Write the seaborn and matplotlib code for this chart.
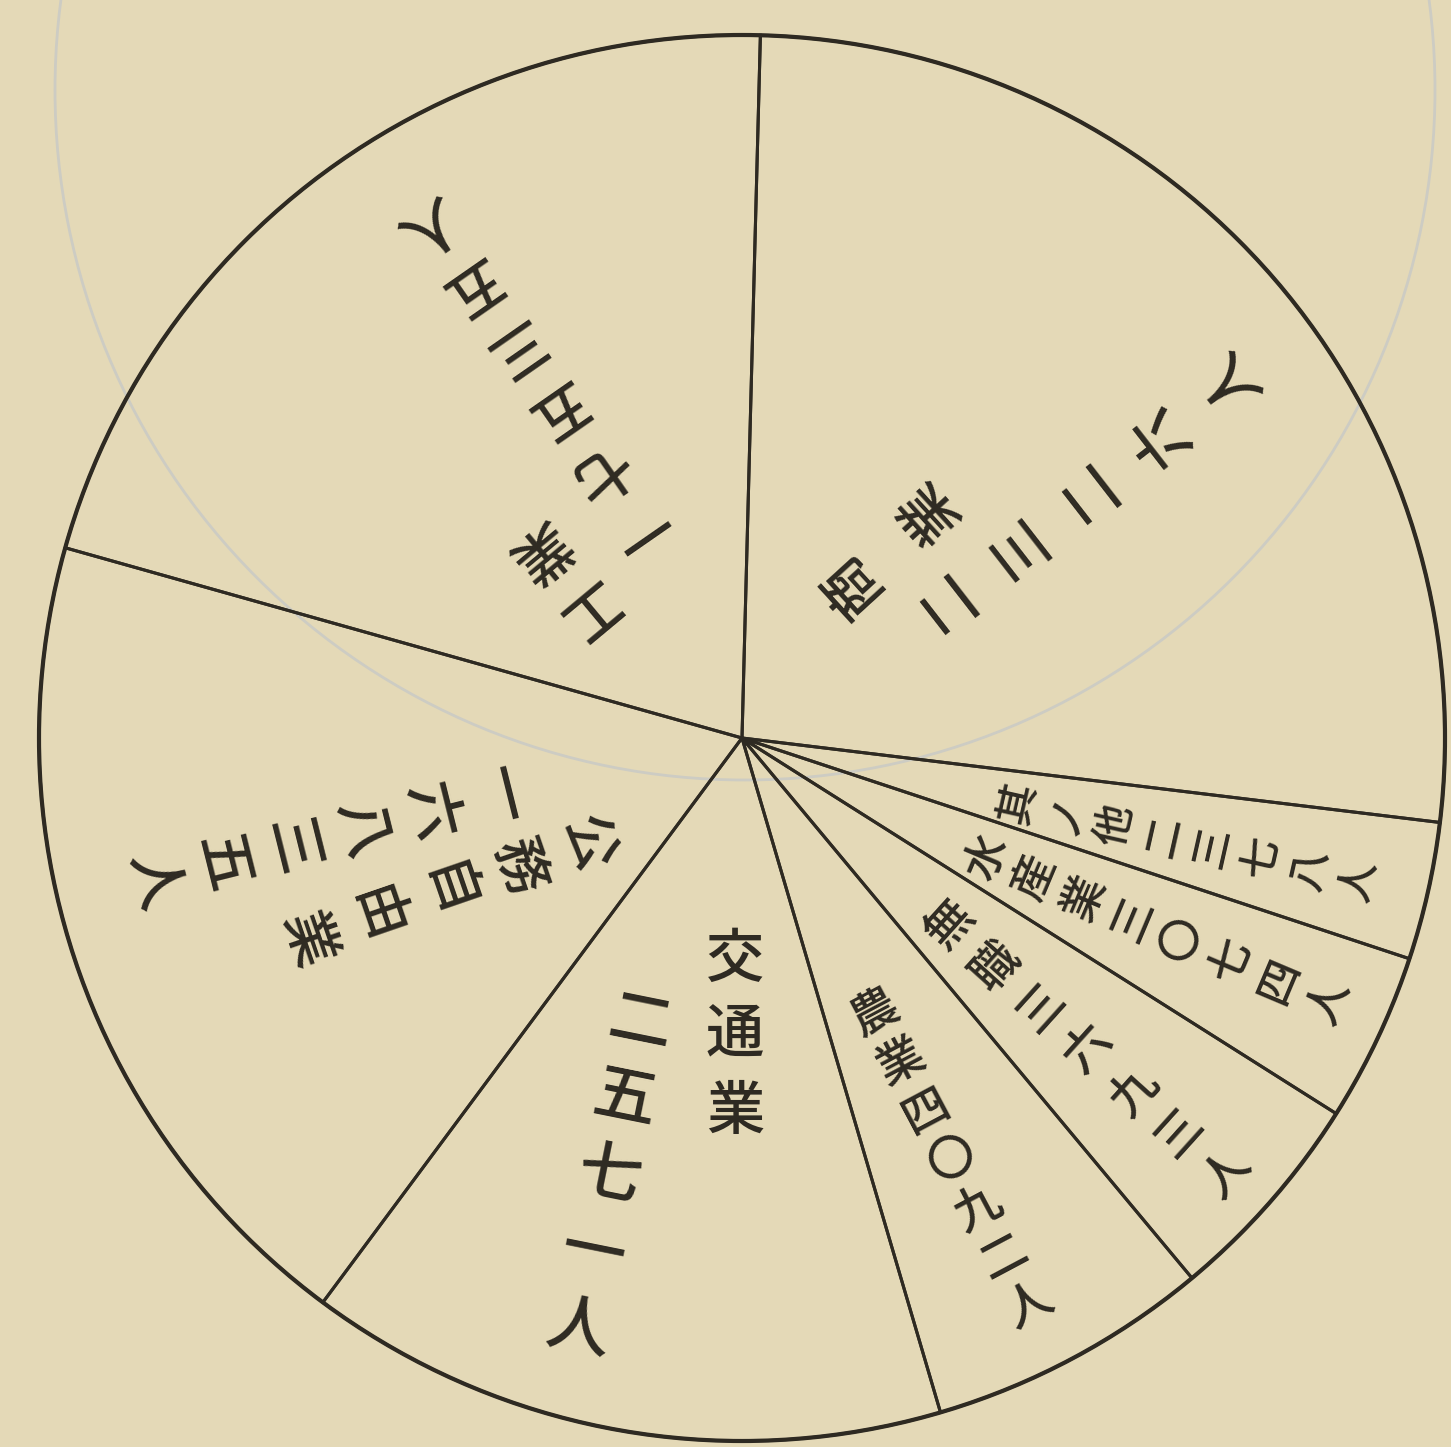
import numpy as np
import matplotlib
matplotlib.use("Agg")
import matplotlib.pyplot as plt
import seaborn as sns

# slice sizes (degrees of the circle), counter-clockwise from the top
sectors = ["工業", "公務自由業", "交通業", "農業", "無職", "水産業", "其ノ他", "商業"]
shares = [75.8, 69.1, 53.0, 23.4, 17.9, 14.0, 11.4, 95.4]
counts = ["一七五三五人", "一六八三五人", "二五七一人", "四〇九二人",
          "三六九三人", "三〇七四人", "二三七八人", "二三二六人"]

W, H = 1451, 1447
paper = "#e4d9b7"
ink = "#2e2a22"
ghost = "#cdccc3"
jp = ["Noto Sans CJK JP", "DejaVu Sans"]

sns.set_style("white")
plt.rcParams["font.family"] = jp

fig = plt.figure(figsize=(W / 100, H / 100), dpi=100, facecolor=paper)
ax = fig.add_axes([0, 0, 1, 1])
ax.set_facecolor(paper)

# faint show-through of the circle printed on the other side of the page
ax.add_patch(plt.Circle((745, H - 90), 690, fill=False, edgecolor=ghost,
                        linewidth=2.0, zorder=0.5))

cx, cy, R = 742, H - 738, 703
ax.pie(shares, startangle=88.5, counterclock=True, center=(cx, cy), radius=R,
       colors=["none"] * len(shares),
       wedgeprops=dict(edgecolor=ink, linewidth=2.2))
ax.add_patch(plt.Circle((cx, cy), R, fill=False, edgecolor=ink, linewidth=3.0))


def column(chars, x, y, rot, pitch, size):
    # one vertical line of text, characters stepped along their own "down" direction
    a = np.deg2rad(rot)
    dx, dy = np.sin(a), -np.cos(a)
    for i, ch in enumerate(chars):
        ax.text(x + i * pitch * dx, (H - y) + i * pitch * dy, ch,
                rotation=rot, rotation_mode="anchor", ha="center", va="center",
                fontsize=size, color=ink, family=jp, fontweight="medium")


# two-column labels: name, then count
column(sectors[7], 850, 583, 132.4, 108, 42)
column(counts[7], 947, 600, 127.8, 90, 42)

column(sectors[0], 587, 610, 219.8, 78, 42)
column(counts[0], 640, 533, 214.8, 75, 42)

column(sectors[1], 587, 843, 289, 74, 40)
column(counts[1], 500, 795, 284, 71.6, 42)

column(sectors[2], 735, 960, 0, 76, 42)
column(counts[2], 640, 1022, -11.4, 78.5, 46)

# single-line labels in the narrow slices
column(sectors[3] + counts[3], 875, 1014, 28, 55, 34)
column(sectors[4] + counts[4], 950, 925, 48, 62, 34)
column(sectors[5] + counts[5], 987, 857, 67.1, 53, 32)
column(sectors[6] + counts[6], 1017, 803, 77.3, 50, 30)

ax.set_xlim(0, W)
ax.set_ylim(0, H)
ax.set_aspect("equal")
ax.axis("off")

fig.savefig("out.png", dpi=100, facecolor=paper)
